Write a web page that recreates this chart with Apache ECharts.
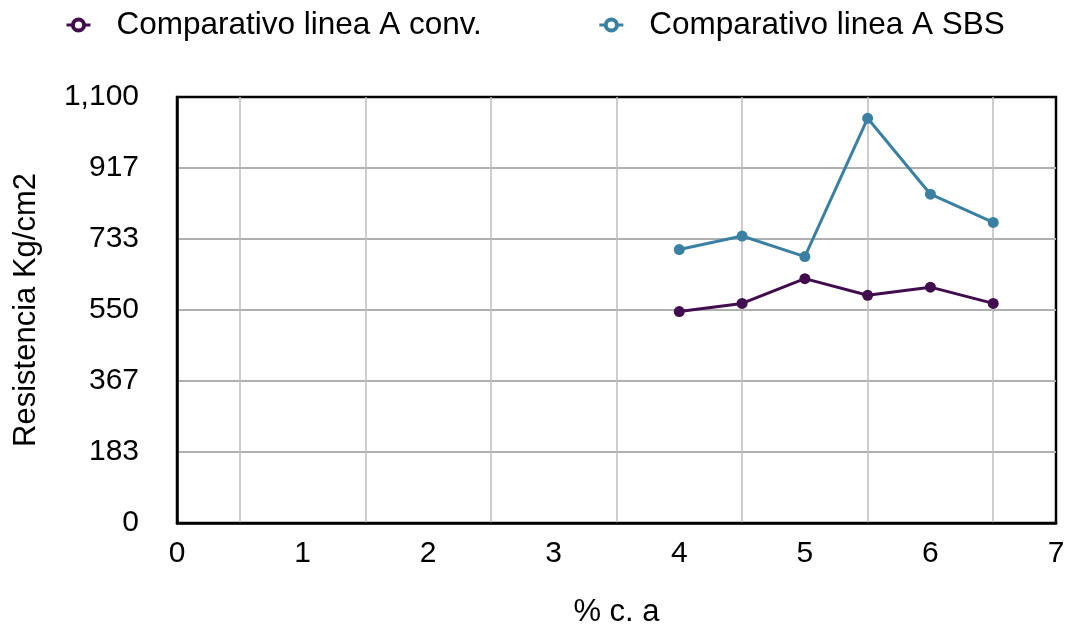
<!DOCTYPE html>
<html>
<head>
<meta charset="utf-8">
<script src="https://cdn.jsdelivr.net/npm/echarts@6/dist/echarts.min.js"></script>
<style>html,body{margin:0;padding:0;background:#fff;}#chart{width:1069px;height:625px;}</style>
</head>
<body>
<div id="chart"></div>
<script>
const seriesNames = ['Comparativo linea A conv.', 'Comparativo linea A SBS'];
const xValues = [4, 4.5, 5, 5.5, 6, 6.5];
const convValues = [546, 567, 631, 588, 609, 567];
const sbsValues = [706, 741, 688, 1045, 849, 776];
const yMin = 0, yMax = 1100, ySteps = 6;
const xMin = 0, xMax = 7, xStep = 1;
const colors = ['#420d4e', '#3a80a3'];
const FONT = '"Liberation Sans", Arial, Helvetica, sans-serif';

const chart = echarts.init(document.getElementById('chart'));
function pairs(vals){ return xValues.map((x,i)=>[x, vals[i]]); }
chart.setOption({
  animation: false,
  color: colors,
  textStyle: { fontFamily: FONT },
  legend: {
    left: 60, top: 4,
    itemWidth: 24, itemHeight: 14, itemGap: 116,
    formatter: n => '{t|' + n + '}',
    textStyle: { rich: { t: { fontSize: 31.5, color: '#000', fontFamily: FONT, padding: [0,0,0,21] } } },
    data: seriesNames.map((n, i) => ({
      name: n,
      itemStyle: { color: '#fff', borderColor: colors[i], borderWidth: 4 },
      lineStyle: { color: colors[i], width: 3 }
    }))
  },
  grid: { left: 177, right: 13, top: 97, bottom: 102, outerBoundsMode: 'none', containLabel: false,
    show: true, borderColor: '#000', borderWidth: 2.5, backgroundColor: 'transparent' },
  xAxis: {
    type: 'value', min: xMin, max: xMax, interval: xStep,
    name: '% c. a', nameLocation: 'middle', nameGap: 74,
    nameTextStyle: { fontSize: 31, color: '#000', fontFamily: FONT },
    axisLine: { show: true, lineStyle: { color: '#000', width: 2.5 } },
    axisTick: { show: false },
    axisLabel: { fontSize: 30, color: '#000', margin: 16, fontFamily: FONT },
    splitLine: { show: false },
    minorTick: { show: false, splitNumber: 2 },
    minorSplitLine: { show: true, lineStyle: { color: '#bdbdbd', width: 1.5 } }
  },
  yAxis: {
    type: 'value', min: yMin, max: yMax, interval: (yMax - yMin) / ySteps,
    name: 'Resistencia Kg/cm2', nameLocation: 'middle', nameGap: 135,
    nameTextStyle: { fontSize: 31, color: '#000', fontFamily: FONT },
    axisLine: { show: true, lineStyle: { color: '#000', width: 2.5 } },
    axisTick: { show: false },
    axisLabel: { fontSize: 30, color: '#000', margin: 38, fontFamily: FONT,
      formatter: v => Math.round(v).toLocaleString('en-US') },
    splitLine: { show: true, showMinLine: false, showMaxLine: false, lineStyle: { color: '#b0b0b0', width: 2 } }
  },
  series: [
    { name: seriesNames[0], type: 'line', data: pairs(convValues), symbol: 'circle', symbolSize: 11,
      lineStyle: { width: 3 }, z: 3 },
    { name: seriesNames[1], type: 'line', data: pairs(sbsValues), symbol: 'circle', symbolSize: 11,
      lineStyle: { width: 3 }, z: 3 }
  ]
});
</script>
</body>
</html>
